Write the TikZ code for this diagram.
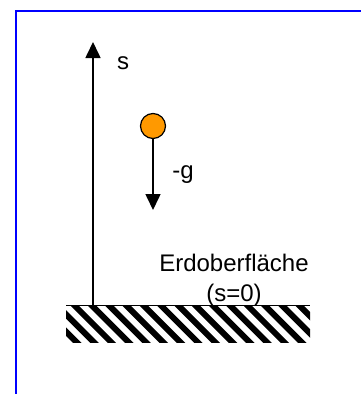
\documentclass[tikz,border=0pt]{standalone}
\usepackage{fontspec}
\setmainfont{Liberation Sans}
\usetikzlibrary{arrows.meta}
\definecolor{ballorange}{HTML}{FF9900}
\definecolor{frameblue}{HTML}{0000FF}
\begin{document}
\begin{tikzpicture}[x=1pt,y=-1pt,
  lbl/.style={inner sep=0pt, font=\fontsize{24}{30}\selectfont},
  axis/.style={line width=1.6pt, -{Triangle[width=15pt,length=16pt]}},
  stripe/.style={line width=6pt}]
\useasboundingbox (0,0) rectangle (360,394);
% frame
\draw[frameblue, line width=1.6pt] (16,400) -- (16,11) -- (370,11);
% ground hatch
\begin{scope}
  \clip (66,306) rectangle (310,342);
  \foreach \k in {-3,...,15} {
    \draw[stripe] (75+\k*17.3-4,302) -- ++(46,46);
  }
\end{scope}
\coordinate (gl) at (66,305.5);
\coordinate (gr) at (310,305.5);
\draw[line width=1pt] (gl) -- (gr);
% s axis
\coordinate (base) at (93,305.5);
\coordinate (stop) at (93,42);
\draw[axis] (base) -- (stop);
\node[lbl] (s) at (123,63) {s};
% ball
\node[circle, draw, fill=ballorange, minimum size=25pt, inner sep=0pt, line width=1.2pt] (ball) at (153,126) {};
\coordinate (gtip) at (153,210);
\draw[axis] (ball.south) -- (gtip);
\node[lbl] (g) at (183,175) {-g};
% label
\node[lbl, align=center] (erd) at (234,280.5) {Erdoberfläche\\(s=0)};
\end{tikzpicture}
\end{document}
